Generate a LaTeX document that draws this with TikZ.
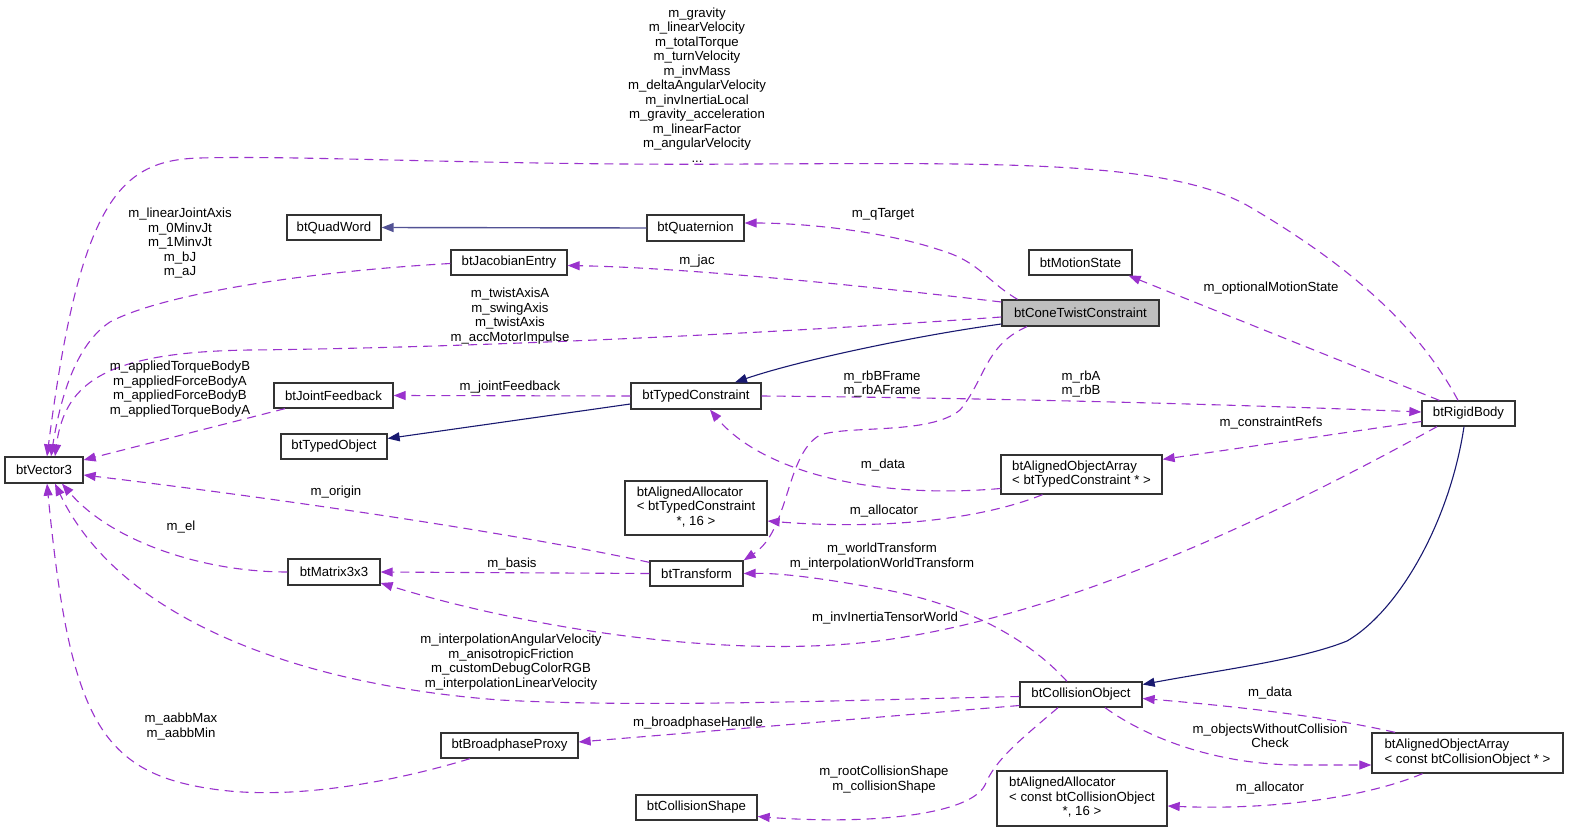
\documentclass[tikz,border=0pt]{standalone}
\usepackage{fontspec}
\setmainfont{Liberation Sans}
\usetikzlibrary{arrows.meta}
\definecolor{usecol}{HTML}{9A32CD}
\definecolor{inhcol}{HTML}{191970}
\definecolor{mainfill}{HTML}{BFBFBF}
\newcommand\dxfont{\fontsize{13.2}{14.5}\selectfont}
\begin{document}
\begin{tikzpicture}[x=1pt,y=-1pt,
  cls/.style={draw=black!80, line width=1.3pt, inner sep=0pt, font=\dxfont, align=center},
  lbl/.style={inner sep=0pt, font=\dxfont, align=center},
  use/.style={draw=usecol, line width=1.1pt, dash pattern=on 9pt off 6pt, -{Triangle[length=12pt,width=9pt]}},
  inh/.style={draw=inhcol, line width=1.1pt, -{Triangle[length=12pt,width=9pt]}}]
\useasboundingbox (0,0) rectangle (1569,832);
% nodes
\node[cls, minimum width=78pt, minimum height=26pt] (vec) at (44,470) {btVector3};
\node[cls, minimum width=94pt, minimum height=25pt] (quad) at (334,227.5) {btQuadWord};
\node[cls, minimum width=97pt, minimum height=26pt] (quat) at (695.5,228) {btQuaternion};
\node[cls, minimum width=116pt, minimum height=25pt] (jac) at (509,262.5) {btJacobianEntry};
\node[cls, minimum width=103pt, minimum height=25pt] (ms) at (1080.5,262.5) {btMotionState};
\node[cls, fill=mainfill, minimum width=157pt, minimum height=26pt] (ctc) at (1080.5,313) {btConeTwistConstraint};
\node[cls, minimum width=119pt, minimum height=25pt] (jf) at (333.5,395.5) {btJointFeedback};
\node[cls, minimum width=130pt, minimum height=26pt] (tc) at (696,396) {btTypedConstraint};
\node[cls, minimum width=93pt, minimum height=25pt] (rb) at (1468.5,413.5) {btRigidBody};
\node[cls, minimum width=106pt, minimum height=25pt] (to) at (334,446.5) {btTypedObject};
\node[cls, minimum width=161pt, minimum height=39pt] (aoatc) at (1081.5,474.5)
  {\begin{tabular}{@{}l@{}}btAlignedObjectArray\\< btTypedConstraint * >\end{tabular}};
\node[cls, minimum width=142pt, minimum height=54pt] (aatc) at (696,508)
  {\begin{tabular}{@{}l@{}}btAlignedAllocator\\< btTypedConstraint\\\multicolumn{1}{@{}c@{}}{*, 16 >}\end{tabular}};
\node[cls, minimum width=93pt, minimum height=25pt] (tr) at (696.5,573.5) {btTransform};
\node[cls, minimum width=92pt, minimum height=26pt] (m33) at (334,572) {btMatrix3x3};
\node[cls, minimum width=122pt, minimum height=25pt] (co) at (1081,694.5) {btCollisionObject};
\node[cls, minimum width=137pt, minimum height=25pt] (bp) at (509.5,745.5) {btBroadphaseProxy};
\node[cls, minimum width=191pt, minimum height=40pt] (aoaco) at (1467.5,753)
  {\begin{tabular}{@{}l@{}}btAlignedObjectArray\\< const btCollisionObject * >\end{tabular}};
\node[cls, minimum width=121pt, minimum height=25pt] (cs) at (696.5,807.5) {btCollisionShape};
\node[cls, minimum width=170pt, minimum height=55pt] (aaco) at (1082,798.5)
  {\begin{tabular}{@{}l@{}}btAlignedAllocator\\< const btCollisionObject\\\multicolumn{1}{@{}c@{}}{*, 16 >}\end{tabular}};
% inheritance
\draw[inh, draw=inhcol!75, line width=1.4pt] (quat.west) -- (quad.east);
\draw[inh] ([yshift=-11pt]ctc.west) .. controls (920,335) and (800,360) .. ([xshift=39pt]tc.north);
\draw[inh] ([yshift=-8pt]tc.west) -- ([yshift=8pt]to.east);
\draw[inh] ([xshift=-4.5pt]rb.south) .. controls (1450,520) and (1400,610) .. (1347,641)
  .. controls (1300,660) and (1220,670) .. ([yshift=10pt]co.east);
% usage
\draw[use] ([xshift=-10.5pt]rb.north) .. controls (1415,320) and (1340,260) .. (1250,207)
  .. controls (1170,160) and (1000,163) .. (750,164)
  .. controls (500,166) and (300,155) .. (200,158)
  .. controls (120,160) and (80,200) .. ([xshift=3pt]vec.north);
\draw[use] ([yshift=-1pt]jac.west) .. controls (300,272) and (160,295) .. (110,322)
  .. controls (75,345) and (60,400) .. ([xshift=7pt]vec.north);
\draw[use] ([yshift=-4pt]ctc.west) .. controls (750,335) and (450,348) .. (250,350)
  .. controls (110,352) and (65,380) .. ([xshift=11pt]vec.north);
\draw[use] ([xshift=-48.5pt]jf.south) -- ([yshift=10pt]vec.east);
\draw[use] ([yshift=-2pt]tr.north west) .. controls (500,530) and (250,495) .. ([yshift=-5pt]vec.east);
\draw[use] (m33.west) .. controls (200,572) and (110,540) .. ([xshift=18pt]vec.south);
\draw[use] ([yshift=-2pt]co.west) .. controls (850,700) and (650,708) .. (500,700)
  .. controls (300,685) and (120,620) .. ([xshift=11pt]vec.south);
\draw[use] ([xshift=-39.5pt]bp.south) .. controls (400,780) and (300,800) .. (220,790)
  .. controls (100,775) and (70,720) .. ([xshift=3pt]vec.south);
\draw[use] ([xshift=-14pt]co.north) .. controls (1020,630) and (950,600) .. (870,587)
  .. controls (820,578) and (780,573) .. (tr.east);
\draw[use] ([xshift=-31.5pt]rb.south) .. controls (1250,530) and (1050,620) .. (870,642)
  .. controls (700,660) and (500,620) .. ([yshift=-11pt]m33.east);
\draw[use] (tr.west) -- (m33.east);
\draw[use] ([xshift=-53.5pt]ctc.south) .. controls (985,345) and (985,380) .. (960,410)
  .. controls (930,435) and (850,425) .. (820,435)
  .. controls (785,455) and (790,530) .. (tr.north east);
\draw[use] ([xshift=-63pt]ctc.north) .. controls (985,280) and (980,262) .. (940,250)
  .. controls (880,230) and (800,223) .. ([yshift=5pt]quat.east);
\draw[use] ([yshift=11pt]ctc.west) .. controls (900,290) and (700,268) .. ([yshift=-3pt]jac.east);
\draw[use] (tc.west) -- (jf.east);
\draw[use] (tc.east) .. controls (1000,398) and (1250,405) .. ([yshift=1.5pt]rb.west);
\draw[use] ([xshift=18pt]rb.north west) -- ([xshift=-4pt]ms.south east);
\draw[use] ([yshift=-8pt]rb.west) -- ([yshift=-5pt]aoatc.north east);
\draw[use] ([yshift=-14pt]aoatc.west) .. controls (870,500) and (760,470) .. ([xshift=14pt]tc.south);
\draw[use] ([xshift=-39pt]aoatc.south) .. controls (980,520) and (880,530) .. ([yshift=-13pt]aatc.east);
\draw[use] ([yshift=-11pt]co.west) -- ([yshift=3.5pt]bp.east);
\draw[use] ([xshift=-23pt]co.south) .. controls (1020,740) and (995,760) .. (985,785)
  .. controls (970,815) and (870,825) .. ([yshift=-9pt]cs.east);
\draw[use] ([xshift=-72.5pt]aoaco.north) .. controls (1320,715) and (1220,705) .. ([yshift=-4pt]co.east);
\draw[use] ([xshift=24pt]co.south) .. controls (1150,740) and (1220,765) .. (1300,765) -- ([yshift=-12pt]aoaco.west);
\draw[use] ([xshift=-45pt]aoaco.south) .. controls (1360,800) and (1260,810) .. ([yshift=-7.5pt]aaco.east);
% labels
\node[lbl] (l1) at (697,85) {m\_gravity\\m\_linearVelocity\\m\_totalTorque\\m\_turnVelocity\\m\_invMass\\m\_deltaAngularVelocity\\m\_invInertiaLocal\\m\_gravity\_acceleration\\m\_linearFactor\\m\_angularVelocity\\...};
\node[lbl] (l2) at (180,243.5) {m\_linearJointAxis\\m\_0MinvJt\\m\_1MinvJt\\m\_bJ\\m\_aJ};
\node[lbl] (l3) at (510,316) {m\_twistAxisA\\m\_swingAxis\\m\_twistAxis\\m\_accMotorImpulse};
\node[lbl] (l4) at (180,389) {m\_appliedTorqueBodyB\\m\_appliedForceBodyA\\m\_appliedForceBodyB\\m\_appliedTorqueBodyA};
\node[lbl] (l5) at (883,214) {m\_qTarget};
\node[lbl] (l6) at (697,261) {m\_jac};
\node[lbl] (l7) at (1271,288) {m\_optionalMotionState};
\node[lbl] (l8) at (510,387) {m\_jointFeedback};
\node[lbl] (l9) at (882,384) {m\_rbBFrame\\m\_rbAFrame};
\node[lbl] (l10) at (1081,384) {m\_rbA\\m\_rbB};
\node[lbl] (l11) at (1271,423) {m\_constraintRefs};
\node[lbl] (l12) at (883,465) {m\_data};
\node[lbl] (l13) at (336,492) {m\_origin};
\node[lbl] (l14) at (884,511) {m\_allocator};
\node[lbl] (l15) at (181,527) {m\_el};
\node[lbl] (l16) at (882,556.5) {m\_worldTransform\\m\_interpolationWorldTransform};
\node[lbl] (l17) at (512,564) {m\_basis};
\node[lbl] (l18) at (885,618) {m\_invInertiaTensorWorld};
\node[lbl] (l19) at (511,662) {m\_interpolationAngularVelocity\\m\_anisotropicFriction\\m\_customDebugColorRGB\\m\_interpolationLinearVelocity};
\node[lbl] (l20) at (1270,693) {m\_data};
\node[lbl] (l21) at (698,723) {m\_broadphaseHandle};
\node[lbl] (l22) at (181,726.5) {m\_aabbMax\\m\_aabbMin};
\node[lbl] (l23) at (1270,736) {m\_objectsWithoutCollision\\Check};
\node[lbl] (l24) at (884,779.5) {m\_rootCollisionShape\\m\_collisionShape};
\node[lbl] (l25) at (1270,788) {m\_allocator};
\end{tikzpicture}
\end{document}
